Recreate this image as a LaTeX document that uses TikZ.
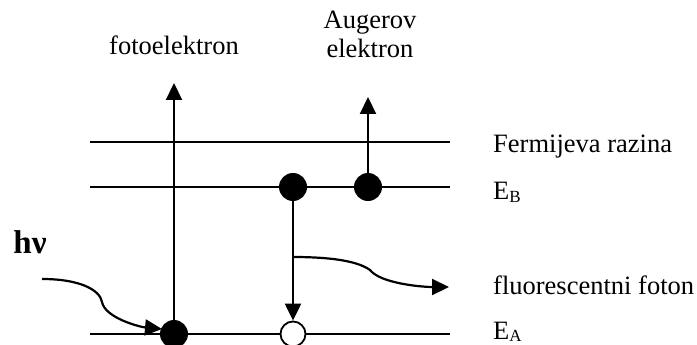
\documentclass[tikz,border=0pt]{standalone}
\usepackage{fontspec}
\setmainfont{Liberation Serif}
\usetikzlibrary{arrows.meta}
\begin{document}
\begin{tikzpicture}[x=1pt,y=-1pt,
  lvl/.style={line width=2pt},
  arr/.style={line width=2.2pt,-{Triangle[length=17pt,width=16pt]}},
  dot/.style={circle,fill=black,minimum size=28pt,inner sep=0pt},
  hole/.style={circle,draw=black,fill=white,line width=1.8pt,minimum size=25pt,inner sep=0pt},
  lbl/.style={font=\fontsize{26.5}{30}\selectfont,inner sep=0pt},
  rlbl/.style={lbl,anchor=base west}]
\useasboundingbox (0,0) rectangle (697,345);
% levels
\coordinate (F1) at (90,142); \coordinate (F2) at (450,142);
\coordinate (B1) at (90,187); \coordinate (B2) at (450,187);
\coordinate (A1) at (90,334); \coordinate (A2) at (450,334);
\draw[lvl] (F1) -- (F2);
\draw[lvl] (B1) -- (B2);
\draw[lvl] (A1) -- (A2);
% labels right
\node[rlbl] (fl) at (493,152) {Fermijeva razina};
\node[rlbl] (eb) at (493,199) {E\lower3pt\hbox{\fontsize{17}{17}\selectfont B}};
\node[rlbl] (ff) at (493,294) {fluorescentni foton};
\node[rlbl] (ea) at (493,339) {E\lower2.5pt\hbox{\fontsize{17}{17}\selectfont A}};
% top labels
\node[lbl,anchor=base] (fe) at (174,55) {fotoelektron};
\node[lbl,anchor=base,align=center] (au1) at (370,29) {Augerov};
\node[lbl,anchor=base] (au2) at (370,58) {elektron};
\node[anchor=base,inner sep=0pt,font=\fontsize{33}{36}\selectfont\bfseries] (hv) at (30,253) {hν};
% electrons
\coordinate (pT) at (174,83);
\coordinate (aT) at (368,97);
\node[dot] (d1) at (174,334) {};
\node[dot] (d2) at (293,187) {};
\node[dot] (d3) at (368,187) {};
\node[hole] (h1) at (293,334) {};
\draw[arr] (d1.center) -- (pT);
\draw[arr] (d3.center) -- (aT);
\draw[arr] (d2.center) -- (h1.north);
% curves
\coordinate (hs) at (42,279);
\coordinate (hm) at (102,302);
\coordinate (he) at (162,329);
\draw[arr] (hs) .. controls (80,279) and (100,290) .. (hm) .. controls (105,318) and (140,327) .. (he);
\coordinate (fs) at (293,257);
\coordinate (fm) at (370,270);
\coordinate (fe2) at (449,287);
\draw[arr] (fs) .. controls (320,257) and (355,259) .. (fm) .. controls (380,283) and (420,287) .. (fe2);
\end{tikzpicture}
\end{document}
